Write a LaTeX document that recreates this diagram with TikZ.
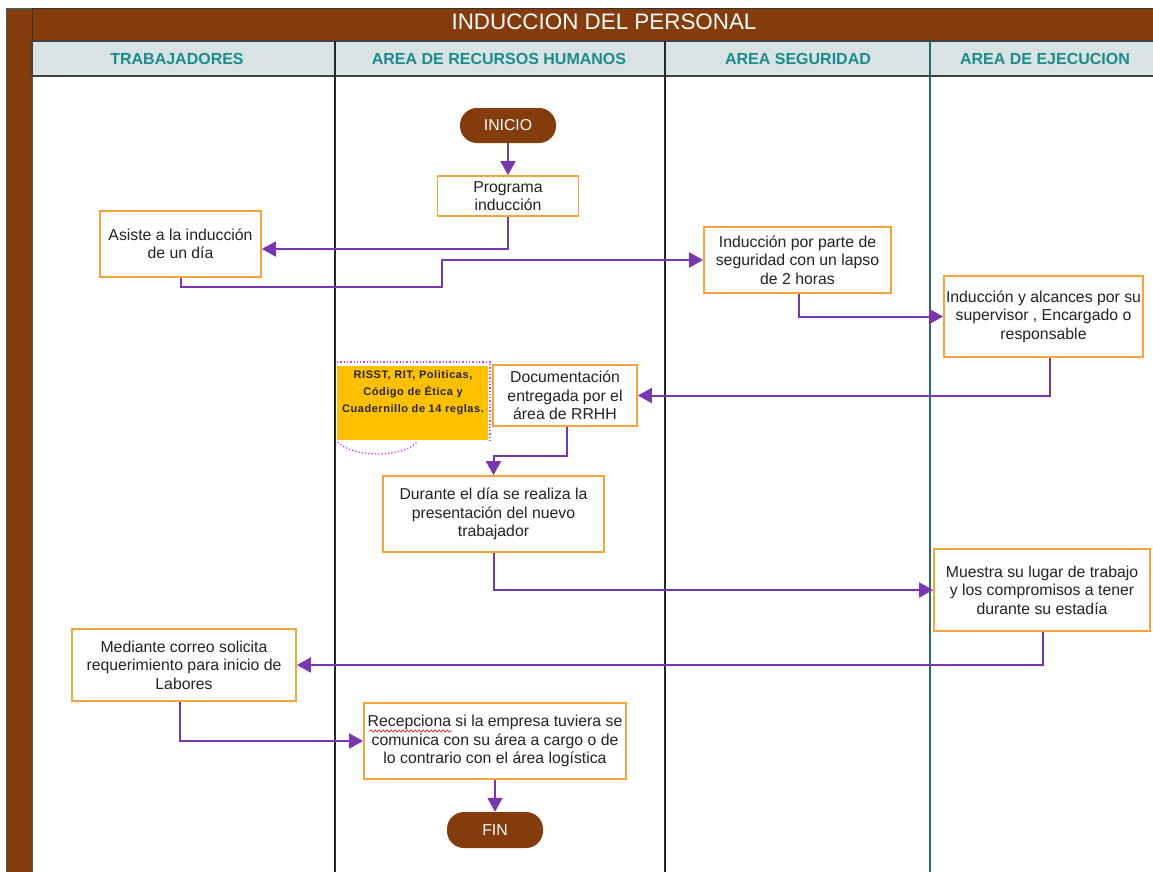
\documentclass[tikz,border=0pt]{standalone}
\usepackage{fontspec}
\setmainfont{Liberation Sans}
\newfontfamily\notefont[LetterSpace=5]{Liberation Sans}
\usetikzlibrary{arrows.meta,decorations.pathmorphing,calc}

\definecolor{brownbar}{RGB}{132,60,12}
\definecolor{headfill}{RGB}{218,227,227}
\definecolor{headtext}{RGB}{26,140,140}
\definecolor{laneteal}{RGB}{40,105,105}
\definecolor{boxorange}{RGB}{245,165,60}
\definecolor{flowpurple}{RGB}{120,55,175}
\definecolor{notefill}{RGB}{255,192,0}
\definecolor{notedot}{RGB}{205,70,235}
\definecolor{boxtext}{RGB}{35,35,35}

\begin{document}
\begin{tikzpicture}[x=1pt,y=-1pt,
  stepbox/.style 2 args={draw=boxorange, line width=1.8pt, fill=white, align=center,
    inner sep=0pt, text=boxtext, minimum width=#1pt, minimum height=#2pt,
    font=\fontsize{15.8}{18.5}\selectfont},
  terminal/.style={fill=brownbar, rounded corners=17pt, text=white, inner sep=0pt,
    minimum width=96pt, minimum height=35pt, font=\fontsize{15.8}{18}\selectfont},
  flow/.style={draw=flowpurple, line width=2pt, -{Triangle[length=14pt,width=15pt]}},
  lanehead/.style={text=headtext, font=\bfseries\fontsize{16}{18}\selectfont},
  lane/.style={line width=1.8pt}]

\useasboundingbox (0,0) rectangle (1153,871);
\fill[white] (0,0) rectangle (1153,871);
\clip (0,0) rectangle (1153,871);

% pool frame: side strip, title bar and lane headers
\filldraw[fill=brownbar, draw=laneteal, line width=1pt] (6,8) rectangle (32,880);
\filldraw[fill=brownbar, draw=black!80, line width=1pt] (32,8) rectangle (1170,41);
\filldraw[fill=headfill, draw=black!75, line width=1.2pt] (32,41) rectangle (1170,76);
\node[text=white, font=\fontsize{22.4}{24}\selectfont] (title) at (604,22) {INDUCCION DEL PERSONAL};

\node[lanehead] (h1) at (177,59) {TRABAJADORES};
\node[lanehead] (h2) at (499,59) {AREA DE RECURSOS HUMANOS};
\node[lanehead] (h3) at (798,59) {AREA SEGURIDAD};
\node[lanehead] (h4) at (1045,59) {AREA DE EJECUCION};

% lane separators
\draw[lane, black!85] (335,41) -- (335,880);
\draw[lane, black!85] (665,41) -- (665,880);
\draw[lane, laneteal] (930,41) -- (930,880);

% note attached to the documentation step
\node[fill=notefill, minimum width=151pt, minimum height=74pt, inner sep=0pt] (note) at (412.5,403) {};
\draw[notedot, line width=1.3pt, dotted] (337,362) -- (490,362) -- (490,443);
\draw[notedot, line width=1.3pt, dotted] (338,442) .. controls (352,458) and (403,458) .. (417,442);
\node[text=black!85, align=center, font=\notefont\bfseries\fontsize{11}{17}\selectfont] (notetext) at (413,393)
  {RISST, RIT, Politicas,\\Código de Ética y\\Cuadernillo de 14 reglas.};

% process steps
\node[terminal] (inicio) at (508,125.5) {INICIO};
\node[stepbox={141}{40}] (prog) at (508,196) {Programa\\inducción};
\node[stepbox={161}{66}] (asiste) at (180.5,244) {Asiste a la inducción\\de un día};
\node[stepbox={187}{66}] (seg) at (797.5,260) {Inducción por parte de\\seguridad con un lapso\\de 2 horas};
\node[stepbox={199}{81}] (ejec) at (1043.5,316.5) {Inducción y alcances por su\\supervisor , Encargado o\\responsable};
\node[stepbox={144}{61}] (doc) at (565,395.5) {Documentación\\entregada por el\\área de RRHH};
\node[stepbox={221}{76}] (dur) at (493.5,514) {Durante el día se realiza la\\presentación del nuevo\\trabajador};
\node[stepbox={216}{82}] (muestra) at (1042,590) {Muestra su lugar de trabajo\\y los compromisos a tener\\durante su estadía};
\node[stepbox={224}{72}] (med) at (184,665) {Mediante correo solicita\\requerimiento para inicio de\\Labores};
\node[stepbox={262}{76}] (rec) at (495,741) {Recepciona si la empresa tuviera se\\comunica con su área a cargo o de\\lo contrario con el área logística};
\node[terminal, minimum height=36pt] (fin) at (495,830) {FIN};

% spell-check mark under the first word
\draw[red!85!black, line width=0.6pt, decorate, decoration={snake, amplitude=1.1pt, segment length=4pt}]
  (370,731) -- (452,731);

% flow connectors
\coordinate (b3) at (442,287);
\draw[flow] (inicio.south) -- (prog.north);
\draw[flow] (prog.south) |- ([yshift=-5pt]asiste.east);
\draw[flow] (asiste.south) |- (b3) |- (seg.west);
\draw[flow] ([xshift=1.5pt]seg.south) |- (ejec.west);
\draw[flow] ([xshift=6.5pt]ejec.south) |- (doc.east);
\draw[flow] ([xshift=2pt]doc.south) -- ++(0,29) -| (dur.north);
\draw[flow] (dur.south) |- (muestra.west);
\draw[flow] ([xshift=1pt]muestra.south) |- (med.east);
\draw[flow] ([xshift=-4pt]med.south) |- (rec.west);
\draw[flow] (rec.south) -- (fin.north);
\end{tikzpicture}
\end{document}
